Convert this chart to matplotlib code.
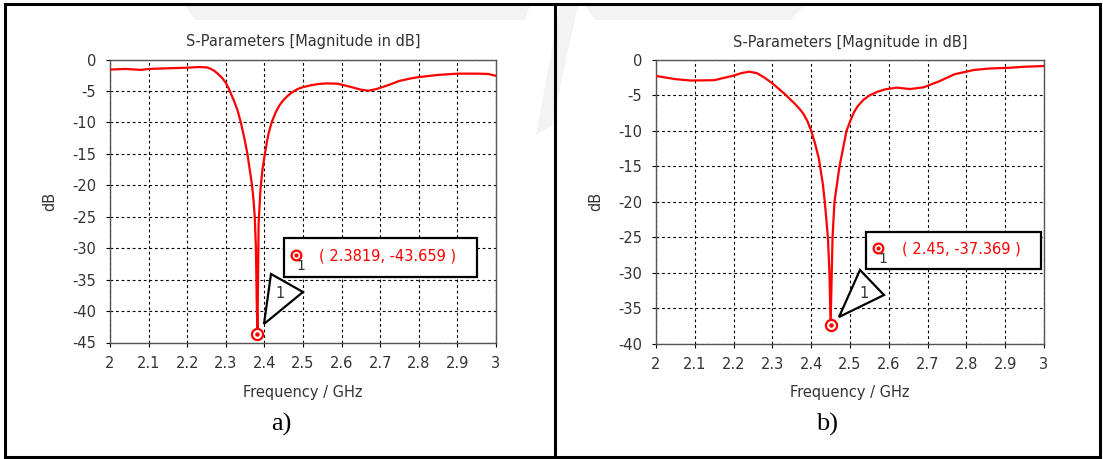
import matplotlib
matplotlib.use("Agg")
from matplotlib import pyplot as plt
from matplotlib.patches import Rectangle, Polygon
from matplotlib.lines import Line2D

plt.rcParams['font.family'] = ['DejaVu Sans']
plt.rcParams['axes.unicode_minus'] = False

# --- data ---
freq_a = [2.00, 2.04, 2.08, 2.10, 2.15, 2.20, 2.23, 2.25, 2.26, 2.27, 2.28, 2.29, 2.30,
          2.309, 2.32, 2.33, 2.339, 2.348, 2.356, 2.362, 2.368, 2.372, 2.375, 2.378,
          2.380, 2.3819, 2.383, 2.385, 2.390, 2.395, 2.400, 2.406, 2.41, 2.415, 2.42,
          2.43, 2.44, 2.45, 2.46, 2.47, 2.48, 2.49, 2.50, 2.52, 2.54, 2.56, 2.59,
          2.62, 2.65, 2.67, 2.69, 2.72, 2.75, 2.78, 2.80, 2.85, 2.90, 2.95, 2.98, 3.00]
s11_a = [-1.6, -1.5, -1.65, -1.5, -1.4, -1.3, -1.2, -1.25, -1.45, -1.8, -2.3, -2.9, -3.7,
         -4.8, -6.4, -8.0, -10.0, -12.5, -15.0, -17.5, -20.0, -22.5, -25.0, -30.0,
         -38.0, -43.659, -38.0, -26.0, -20.5, -17.5, -15.5, -13.3, -12.0, -10.8, -9.8,
         -8.3, -7.2, -6.4, -5.8, -5.3, -4.9, -4.6, -4.4, -4.1, -3.9, -3.8, -3.85,
         -4.3, -4.8, -4.95, -4.7, -4.1, -3.4, -3.0, -2.8, -2.45, -2.25, -2.25, -2.3, -2.6]

freq_b = [2.00, 2.05, 2.09, 2.15, 2.20, 2.22, 2.24, 2.26, 2.28, 2.30, 2.33, 2.36, 2.37,
          2.38, 2.39, 2.40, 2.41, 2.42, 2.43, 2.435, 2.443, 2.447, 2.45, 2.453, 2.455,
          2.46, 2.473, 2.491, 2.50, 2.51, 2.52, 2.535, 2.55, 2.57, 2.59, 2.62, 2.655,
          2.69, 2.73, 2.77, 2.82, 2.86, 2.91, 2.95, 3.00]
s11_b = [-2.25, -2.7, -2.9, -2.85, -2.2, -1.85, -1.65, -1.85, -2.5, -3.3, -4.7, -6.3, -6.9,
         -7.6, -8.6, -10.0, -11.8, -14.0, -17.5, -20.0, -25.0, -30.0, -37.369, -30.0, -25.0,
         -20.0, -15.0, -10.0, -8.7, -7.4, -6.5, -5.6, -5.0, -4.5, -4.15, -3.9, -4.1,
         -3.85, -3.0, -2.0, -1.4, -1.2, -1.1, -0.95, -0.85]

min_a = (2.3819, -43.659)
min_b = (2.45, -37.369)

xticks = [2, 2.1, 2.2, 2.3, 2.4, 2.5, 2.6, 2.7, 2.8, 2.9, 3]
xticklabels = ['2', '2.1', '2.2', '2.3', '2.4', '2.5', '2.6', '2.7', '2.8', '2.9', '3']
yticks_a = [0, -5, -10, -15, -20, -25, -30, -35, -40, -45]
yticks_b = [0, -5, -10, -15, -20, -25, -30, -35, -40]

W, H = 1103, 459
fig = plt.figure(figsize=(W / 100, H / 100), dpi=100)


def px(x, y):
    # figure pixel (y down) -> figure fraction
    return (x / W, 1 - y / H)


# faint watermark in the background
wm_color = '#f3f3f3'
for pts in [
    [(185, 5), (530, 5), (525, 20), (195, 20)],
    [(585, 5), (805, 5), (790, 20), (595, 20)],
    [(560, 5), (578, 5), (552, 125), (536, 135)],
]:
    fig.patches.append(Polygon([px(*p) for p in pts], closed=True, transform=fig.transFigure,
                               facecolor=wm_color, edgecolor='none', zorder=0))

# frame around both panels
fig.patches.append(Rectangle(px(5, 457), 1095 / W, 453 / H, transform=fig.transFigure,
                             fill=False, edgecolor='black', linewidth=2.2, zorder=5))
fig.lines.append(Line2D([555 / W, 555 / W], [1 - 4 / H, 1 - 457 / H], transform=fig.transFigure,
                        color='black', linewidth=2.2, zorder=5))

text_col = '#333333'


def draw_panel(rect_px, freq, s11, yticks, ymin, mkr, mkr_label, box_px, sym_px, txt_px,
               tri_px, tri_lbl_px, letter, letter_x):
    x0, y0, x1, y1 = rect_px
    ax = fig.add_axes([x0 / W, 1 - y1 / H, (x1 - x0) / W, (y1 - y0) / H])
    ax.plot(freq, s11, color='#ff0000', linewidth=1.6, zorder=3)
    ax.set_xlim(2, 3)
    ax.set_ylim(ymin, 0)
    ax.set_xticks(xticks)
    ax.set_xticklabels(xticklabels)
    ax.set_yticks(yticks)
    ax.set_yticklabels([str(v) for v in yticks])
    ax.grid(True, color='black', linestyle=(0, (2.5, 2.5)), linewidth=0.8)
    ax.tick_params(direction='out', length=3, width=0.8, pad=7, labelsize=10.5,
                   colors='black', labelcolor=text_col)
    for s in ax.spines.values():
        s.set_color('#555555')
        s.set_linewidth(1.0)

    # marker at the minimum
    ax.plot([mkr[0]], [mkr[1]], marker='o', ms=8, mfc='white', mec='#ff0000', mew=1.6,
            zorder=4, clip_on=False)
    ax.plot([mkr[0]], [mkr[1]], marker='o', ms=2.2, color='#ff0000', zorder=5, clip_on=False)

    h = y1 - y0
    ax.text(0.5, 1 + 18 / h, 'S-Parameters [Magnitude in dB]', transform=ax.transAxes,
            ha='center', va='center', fontsize=10.5, color=text_col)
    ax.text(0.5, -(392 - y1) / h, 'Frequency / GHz', transform=ax.transAxes,
            ha='center', va='center', fontsize=10.5, color=text_col)
    ax.text(-60 / (x1 - x0), 0.5, 'dB', transform=ax.transAxes, rotation=90,
            ha='center', va='center', fontsize=10.5, color=text_col)

    # marker readout box
    bx0, by0, bx1, by1 = box_px
    fig.patches.append(Rectangle(px(bx0, by1), (bx1 - bx0) / W, (by1 - by0) / H,
                                 transform=fig.transFigure, facecolor='white',
                                 edgecolor='black', linewidth=1.6, zorder=6))
    sx, sy = px(*sym_px)
    fig.lines.append(Line2D([sx], [sy], marker='o', ms=7, mfc='white', mec='#ff0000', mew=1.6,
                            transform=fig.transFigure, zorder=7))
    fig.lines.append(Line2D([sx], [sy], marker='o', ms=2, color='#ff0000',
                            transform=fig.transFigure, zorder=8))
    fig.text(*px(sym_px[0] + 5, sym_px[1] + 11), '1', ha='center', va='center',
             fontsize=10, color=text_col, zorder=8)
    fig.text(*px(*txt_px), mkr_label, ha='left', va='center', fontsize=10.5,
             color='#ff0000', zorder=8)

    # triangle pointer
    fig.patches.append(Polygon([px(*p) for p in tri_px], closed=True, transform=fig.transFigure,
                               facecolor='white', edgecolor='black', linewidth=1.6, zorder=6))
    fig.text(*px(*tri_lbl_px), '1', ha='center', va='center', fontsize=10.5,
             color=text_col, zorder=7)

    fig.text(*px(letter_x, 424), letter, ha='center', va='center', fontsize=19,
             family='Liberation Serif', color='black')
    return ax


draw_panel((110, 59.5, 496, 342.5), freq_a, s11_a, yticks_a, -45, min_a,
           '( %.4f, %.3f )' % min_a,
           (284, 238, 477, 277), (296, 255), (319, 256),
           [(271, 274), (303, 292), (264, 324)], (280, 294), 'a)', 281)

draw_panel((656, 60, 1044, 343.5), freq_b, s11_b, yticks_b, -40, min_b,
           '( %.2f, %.3f )' % min_b,
           (866, 232, 1041, 269), (878, 248), (902, 249),
           [(860, 270), (884, 295), (839, 317)], (864, 294), 'b)', 827)

fig.savefig('out.png', dpi=100)
